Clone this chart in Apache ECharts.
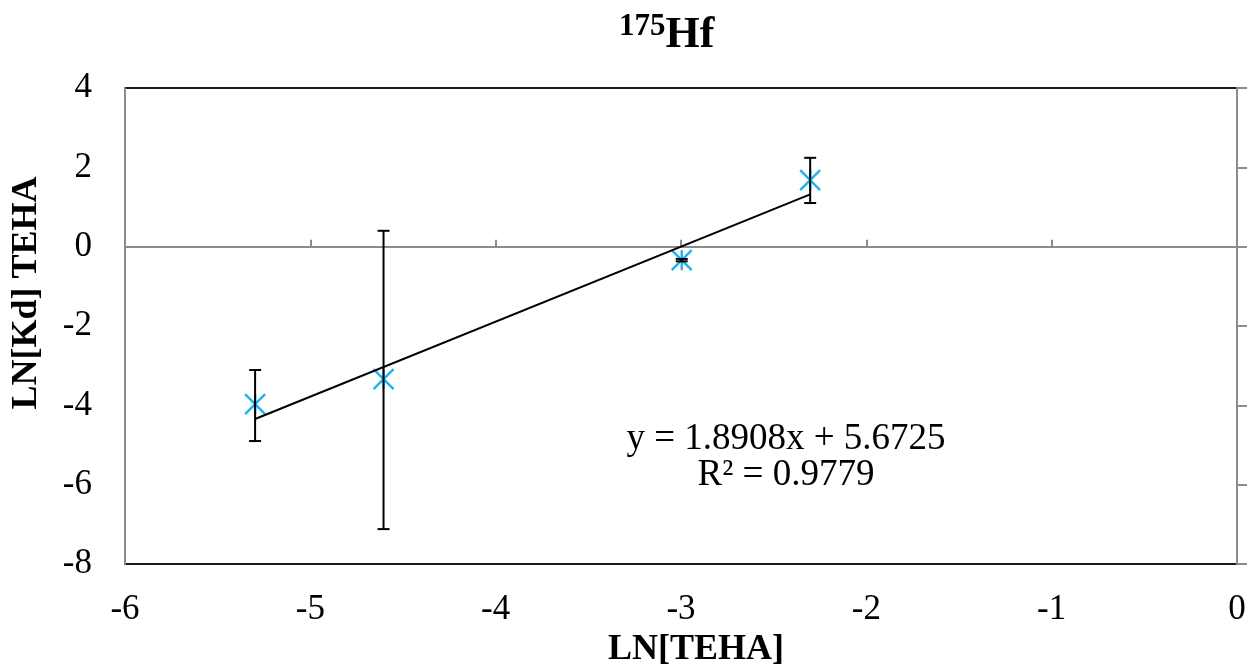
<!DOCTYPE html>
<html>
<head>
<meta charset="utf-8">
<script src="https://cdn.jsdelivr.net/npm/echarts@6/dist/echarts.min.js"></script>
<style>
  html, body { margin: 0; padding: 0; background: #fff; }
  #chart { width: 1259px; height: 665px; }
</style>
</head>
<body>
<div id="chart"></div>
<script>
// LN[TEHA] values (ln of 0.005, 0.01, 0.05, 0.1 M TEHA)
const lnTeha = [-5.298, -4.605, -2.996, -2.303];
// LN[Kd] for 175Hf
const lnKd = [-3.97, -3.34, -0.34, 1.68];
// error bar limits (low / high)
const errLow = [-4.90, -7.12, -0.37, 1.10];
const errHigh = [-3.11, 0.40, -0.31, 2.24];
// linear fit
const slope = 1.8908;
const intercept = 5.6725;
const rSquared = 0.9779;
// axis ticks
const xTicks = { min: -6, max: 0, step: 1 };
const yTicks = { min: -8, max: 4, step: 2 };

const serif = '"Liberation Serif", "Times New Roman", serif';
const markerColor = '#1eb2ee';
const axisGray = '#8c8c8c';

const points = lnTeha.map((x, i) => [x, lnKd[i]]);
const bars = lnTeha.map((x, i) => [x, errLow[i], errHigh[i]]);
const xFirst = lnTeha[0], xLast = lnTeha[lnTeha.length - 1];
const fitLine = [[xFirst, slope * xFirst + intercept], [xLast, slope * xLast + intercept]];

const chart = echarts.init(document.getElementById('chart'), null, { renderer: 'canvas' });

const option = {
  animation: false,
  backgroundColor: '#fff',
  title: {
    text: '{sup|175}{main|Hf}',
    left: 614,
    top: 6,
    textStyle: {
      rich: {
        sup: { fontFamily: serif, fontWeight: 'bold', fontSize: 31, color: '#000', verticalAlign: 'top', lineHeight: 50 },
        main: { fontFamily: serif, fontWeight: 'bold', fontSize: 44, color: '#000', lineHeight: 50 }
      }
    }
  },
  grid: {
    left: 125, right: 22, top: 88, bottom: 101,
    outerBoundsMode: 'none',
    containLabel: false,
    show: true, borderColor: '#1a1a1a', borderWidth: 2, backgroundColor: 'transparent'
  },
  xAxis: [
    {
      type: 'value', min: xTicks.min, max: xTicks.max, interval: xTicks.step,
      position: 'bottom',
      axisLine: { show: false, onZero: false },
      axisTick: { show: false },
      splitLine: { show: false },
      axisLabel: { color: '#000', fontFamily: serif, fontSize: 35, margin: 28 },
      name: 'LN[TEHA]',
      nameLocation: 'middle',
      nameGap: 60,
      nameTextStyle: { color: '#000', fontFamily: serif, fontWeight: 'bold', fontSize: 36, padding: [0, 0, 0, 30] }
    },
    {
      // horizontal axis line crossing at y = 0
      type: 'value', min: xTicks.min, max: xTicks.max, interval: xTicks.step,
      position: 'bottom',
      axisLine: { show: true, onZero: true, lineStyle: { color: axisGray, width: 2 } },
      axisTick: { show: true, inside: true, length: 7, lineStyle: { color: axisGray, width: 2 } },
      axisLabel: { show: false },
      splitLine: { show: false }
    }
  ],
  yAxis: [
    {
      type: 'value', min: yTicks.min, max: yTicks.max, interval: yTicks.step,
      position: 'left',
      axisLine: { show: true, onZero: false, lineStyle: { color: axisGray, width: 2 } },
      axisTick: { show: false },
      splitLine: { show: false },
      axisLabel: { color: '#000', fontFamily: serif, fontSize: 35, margin: 33 },
      name: 'LN[Kd] TEHA',
      nameLocation: 'middle',
      nameGap: 80,
      nameRotate: 90,
      nameTextStyle: { color: '#000', fontFamily: serif, fontWeight: 'bold', fontSize: 36, padding: [0, 0, 0, 66] }
    },
    {
      // vertical axis line crossing at x = 0
      type: 'value', min: yTicks.min, max: yTicks.max, interval: yTicks.step,
      position: 'right',
      axisLine: { show: true, onZero: false, lineStyle: { color: axisGray, width: 2 } },
      axisTick: { show: true, inside: false, length: 10, lineStyle: { color: axisGray, width: 2 } },
      axisLabel: { show: false },
      splitLine: { show: false }
    }
  ],
  graphic: [
    {
      // trendline equation and coefficient of determination
      type: 'text',
      x: 786,
      y: 421,
      style: {
        text: 'y = ' + slope.toFixed(4) + 'x + ' + intercept.toFixed(4) + '\nR² = ' + rSquared.toFixed(4),
        textAlign: 'center',
        fontFamily: serif,
        fontSize: 37,
        lineHeight: 36,
        fill: '#000'
      }
    }
  ],
  series: [
    {
      // star markers (x with vertical stroke)
      type: 'custom',
      xAxisIndex: 0, yAxisIndex: 0,
      z: 2,
      data: points,
      renderItem: function (params, api) {
        const p = api.coord([api.value(0), api.value(1)]);
        const h = 10;
        const style = { stroke: markerColor, lineWidth: 2.4, fill: null };
        return {
          type: 'group',
          children: [
            { type: 'line', shape: { x1: p[0] - h, y1: p[1] - h, x2: p[0] + h, y2: p[1] + h }, style: style },
            { type: 'line', shape: { x1: p[0] - h, y1: p[1] + h, x2: p[0] + h, y2: p[1] - h }, style: style },
            { type: 'line', shape: { x1: p[0], y1: p[1] - h, x2: p[0], y2: p[1] + h }, style: style }
          ]
        };
      }
    },
    {
      // linear trendline
      type: 'line',
      xAxisIndex: 0, yAxisIndex: 0,
      z: 3,
      data: fitLine,
      symbol: 'none',
      lineStyle: { color: '#000', width: 2 }
    },
    {
      // vertical error bars with caps
      type: 'custom',
      xAxisIndex: 0, yAxisIndex: 0,
      z: 4,
      data: bars,
      renderItem: function (params, api) {
        const lo = api.coord([api.value(0), api.value(1)]);
        const hi = api.coord([api.value(0), api.value(2)]);
        const cap = 6;
        const style = { stroke: '#000', lineWidth: 2, fill: null };
        return {
          type: 'group',
          children: [
            { type: 'line', shape: { x1: lo[0], y1: lo[1], x2: hi[0], y2: hi[1] }, style: style },
            { type: 'line', shape: { x1: lo[0] - cap, y1: lo[1], x2: lo[0] + cap, y2: lo[1] }, style: style },
            { type: 'line', shape: { x1: hi[0] - cap, y1: hi[1], x2: hi[0] + cap, y2: hi[1] }, style: style }
          ]
        };
      }
    }
  ]
};

chart.setOption(option);
</script>
</body>
</html>
